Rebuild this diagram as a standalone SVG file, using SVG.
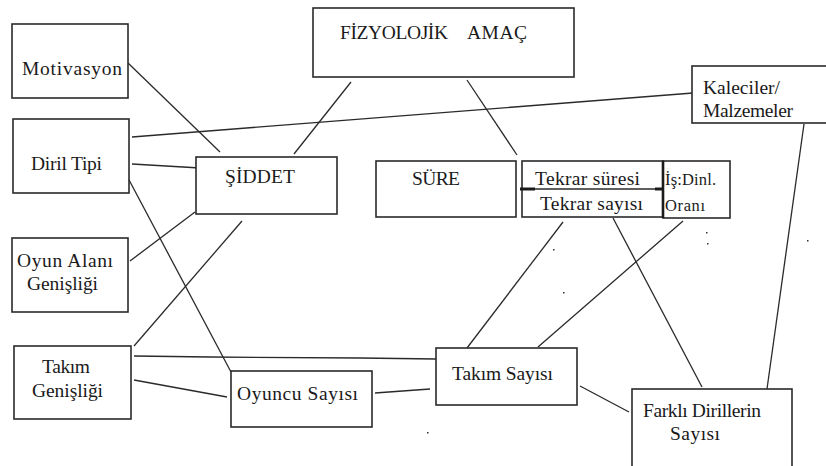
<svg xmlns="http://www.w3.org/2000/svg" width="826" height="466" viewBox="0 0 826 466">
<style>
.box{fill:#fff;stroke:#2a2a2a;stroke-width:1.6}
text{font-family:'Liberation Serif','Times New Roman',serif;font-size:19.5px;fill:#1a1a1a}
.s{font-size:16.5px}
.c line,.c polyline{stroke:#2a2a2a;stroke-width:1.3;fill:none}
.dot{fill:#333}
</style>
<rect width="826" height="466" fill="#fff"/>
<g class="c" id="connectors">
<line x1="128" y1="63" x2="220" y2="152"/>
<line x1="351" y1="82" x2="294" y2="154"/>
<line x1="132" y1="137" x2="693" y2="93"/>
<line x1="132" y1="164" x2="200" y2="168"/>
<line x1="128" y1="178" x2="231" y2="372"/>
<line x1="195" y1="212" x2="130" y2="261"/>
<line x1="242" y1="221" x2="134" y2="346"/>
<line x1="467" y1="80" x2="517" y2="155"/>
<line x1="804" y1="124" x2="767" y2="389"/>
<line x1="563" y1="222" x2="467" y2="348"/>
<line x1="613" y1="218" x2="702" y2="387"/>
<line x1="683" y1="221" x2="538" y2="347"/>
<polyline points="134,356 210,357 360,358 436,359"/>
<line x1="134" y1="380" x2="227" y2="397"/>
<line x1="375" y1="393" x2="430" y2="389"/>
<line x1="580" y1="386" x2="629" y2="412"/>
</g>
<g id="motivasyon"><rect class="box" x="12" y="24" width="116" height="74"/><text x="22" y="75" textLength="100">Motivasyon</text></g>
<g id="diril-tipi"><rect class="box" x="13" y="119" width="116" height="74"/><text x="31" y="170" textLength="71">Diril Tipi</text></g>
<g id="oyun-alani"><rect class="box" x="12" y="238" width="116" height="74"/><text x="17" y="267" textLength="96">Oyun Alanı</text><text x="27" y="290" textLength="71">Genişliği</text></g>
<g id="takim-genisligi"><rect class="box" x="14" y="346" width="117" height="73"/><text x="42" y="373" textLength="48">Takım</text><text x="32" y="397" textLength="71">Genişliği</text></g>
<g id="fizyolojik"><rect class="box" x="313" y="8" width="261" height="69"/><text x="340" y="39" textLength="108">FİZYOLOJİK</text><text x="467" y="39" textLength="60">AMAÇ</text></g>
<g id="siddet"><rect class="box" x="196" y="157" width="141" height="57"/><text x="225" y="183" textLength="70">ŞİDDET</text></g>
<g id="sure"><rect class="box" x="376" y="161" width="140" height="56"/><text x="412" y="185" textLength="48">SÜRE</text></g>
<g id="tekrar"><rect class="box" x="522" y="161" width="141" height="56"/><line x1="522" y1="189" x2="663" y2="189" stroke="#2a2a2a" stroke-width="1.4"/><line x1="520" y1="189" x2="535" y2="189" stroke="#1a1a1a" stroke-width="3"/><line x1="655" y1="189" x2="663" y2="189" stroke="#1a1a1a" stroke-width="3"/><text x="535" y="185" textLength="105">Tekrar süresi</text><text x="540" y="210" textLength="103">Tekrar sayısı</text></g>
<g id="is-dinlenme"><rect class="box" x="663" y="161" width="67" height="57"/><line x1="663" y1="161" x2="663" y2="218" stroke="#1a1a1a" stroke-width="2.6"/><text class="s" x="665" y="185" textLength="51">İş:Dinl.</text><text class="s" x="665" y="211" textLength="40">Oranı</text></g>
<g id="kaleciler"><rect class="box" x="692" y="66" width="140" height="57"/><text x="703" y="94" textLength="77">Kaleciler/</text><text x="703" y="117" textLength="90">Malzemeler</text></g>
<g id="oyuncu-sayisi"><rect class="box" x="231" y="371" width="141" height="56"/><text x="237" y="400" textLength="121">Oyuncu Sayısı</text></g>
<g id="takim-sayisi"><rect class="box" x="436" y="348" width="141" height="57"/><text x="452" y="380" textLength="101">Takım Sayısı</text></g>
<g id="farkli-diriller"><rect class="box" x="632" y="389" width="160" height="90"/><text x="643" y="417" textLength="118">Farklı Dirillerin</text><text x="670" y="440" textLength="50">Sayısı</text></g>
<g id="dots">
<rect class="dot" x="706" y="232" width="1.5" height="1.5"/>
<rect class="dot" x="707" y="243" width="1.5" height="1.5"/>
<rect class="dot" x="807" y="240" width="1.5" height="1.5"/>
<rect class="dot" x="553" y="249" width="1.5" height="1.5"/>
<rect class="dot" x="563" y="292" width="1.5" height="1.5"/>
<rect class="dot" x="427" y="432" width="1.5" height="1.5"/>
</g>
</svg>
